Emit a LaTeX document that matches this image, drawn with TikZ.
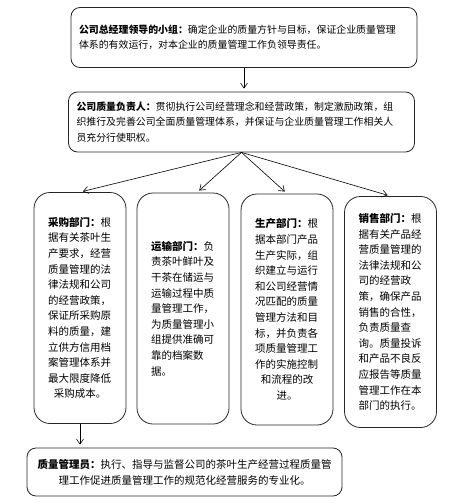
\documentclass[tikz,border=0pt]{standalone}
\usepackage{fontspec}
\setmainfont{Noto Sans CJK SC}
\usetikzlibrary{arrows.meta,positioning}

\begin{document}
\begin{tikzpicture}[x=1pt, y=-1pt,
    headbox/.style={rectangle, draw=black!85, line width=0.8pt, rounded corners=9pt, minimum width=346pt, minimum height=60pt, text width=330pt, align=left, font=\fontsize{9.9}{15.5}\selectfont},
    deptbox/.style={rectangle, draw=black!85, line width=0.8pt, rounded corners=16pt, minimum width=92pt, minimum height=231pt, text width=64pt, align=left, font=\fontsize{10.5}{15.6}\selectfont},
    footbox/.style={rectangle, draw=black!85, line width=0.8pt, rounded corners=9pt, minimum width=315pt, minimum height=48pt, text width=300pt, align=center, font=\fontsize{10.5}{16}\selectfont},
    arr/.style={-{Straight Barb[length=5pt,width=7pt]}, line width=0.6pt, shorten >=3pt}
]
\useasboundingbox (0,0) rectangle (462,503);

% Leadership
\node[headbox] (lead) at (244,37.5) {{\bfseries 公司总经理领导的小组：}确定企业的质量方针与目标，保证企业质量管理\\体系的有效运行，对本企业的质量管理工作负领导责任。};
\node[headbox] (chief) at (241.5,122) {{\bfseries 公司质量负责人：}贯彻执行公司经营理念和经营政策，制定激励政策，组\\织推行及完善公司全面质量管理体系，并保证与企业质量管理工作相关人\\员充分行使职权。};

% Departments
\node[deptbox] (purchase) at (80,308) {{\bfseries 采购部门：}根\\据有关茶叶生\\产要求，经营\\质量管理的法\\律法规和公司\\的经营政策，\\保证所采购原\\料的质量，建\\立供方信用档\\案管理体系并\\最大限度降低\\\makebox[64pt]{采购成本。}};
\node[deptbox] (transport) at (183,308.5) {{\bfseries 运输部门：}负\\责茶叶鲜叶及\\干茶在储运与\\运输过程中质\\量管理工作，\\为质量管理小\\组提供准确可\\靠的档案数\\据。};
\node[deptbox] (produce) at (287,309.5) {{\bfseries 生产部门：}根\\据本部门产品\\生产实际，组\\织建立与运行\\和公司经营情\\况匹配的质量\\管理方法和目\\标，并负责各\\项质量管理工\\作的实施控制\\\makebox[64pt]{和流程的改}\\\makebox[64pt]{进。}};
\node[deptbox] (sales) at (390.5,312) {{\bfseries 销售部门：}根\\据有关产品经\\营质量管理的\\法律法规和公\\司的经营政\\策，确保产品\\销售的合性，\\负责质量查\\询。质量投诉\\和产品不良反\\应报告等质量\\管理工作在本\\部门的执行。};

% Quality inspector
\node[footbox] (inspector) at (184.5,472) {{\bfseries 质量管理员：}执行、指导与监督公司的茶叶生产经营过程质量管\\理工作促进质量管理工作的规范化经营服务的专业化。};

% Connectors
\draw[arr] (lead.south) -- (lead.south |- chief.north);
\draw[arr] (chief.south) -- (purchase.north);
\draw[arr] (chief.south) -- ([xshift=14pt]transport.north);
\draw[arr] (chief.south) -- (produce.north);
\draw[arr] (chief.south) -- (sales.north);
\draw[arr] (purchase.south) -- (purchase.south |- inspector.north);
\end{tikzpicture}
\end{document}
